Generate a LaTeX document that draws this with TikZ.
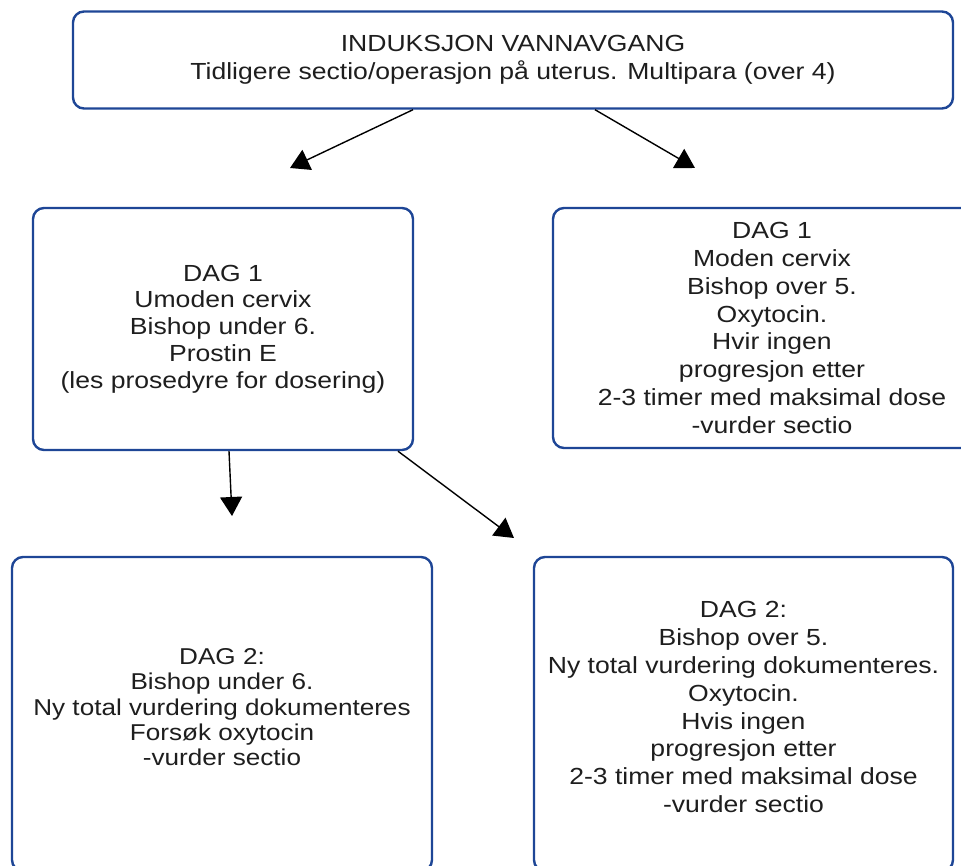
\documentclass[tikz,border=0pt]{standalone}
\usepackage{fontspec}
\setmainfont{Liberation Sans}[FakeStretch=1.14]
\usepackage{xcolor}
\usepackage{tikz}
\usetikzlibrary{arrows.meta, positioning, calc}
\definecolor{boxblue}{RGB}{30,70,150}
\definecolor{inktext}{RGB}{30,30,30}
\tikzset{
  stage/.style = {rectangle, rounded corners=11pt, draw=boxblue, line width=2.4pt,
                  fill=white, inner sep=0pt, align=center, text=inktext,
                  font=\fontsize{23.3}{27.8}\selectfont},
  flow/.style  = {-{Triangle[length=19pt,width=22pt]}, line width=1.4pt},
}

\begin{document}
\begin{tikzpicture}[x=1pt, y=-1pt]
  \useasboundingbox (0,0) rectangle (961,866);
  \clip (0,0) rectangle (961,866);

  \node[stage, minimum width=880pt, minimum height=97pt] (start) at (513,60)
    {INDUKSJON VANNAVGANG\\Tidligere sectio/operasjon på uterus. Multipara (over 4)};
  \node[stage, minimum width=380pt, minimum height=242pt,
        font=\fontsize{23.3}{26.8}\selectfont] (umoden) at (223,329)
    {DAG 1\\Umoden cervix\\Bishop under 6.\\Prostin E\\(les prosedyre for dosering)};
  \node[stage, minimum width=438pt, minimum height=240pt] (moden) at (772,328)
    {DAG 1\\Moden cervix\\Bishop over 5.\\Oxytocin.\\Hvir ingen\\progresjon etter\\2-3 timer med maksimal dose\\-vurder sectio};
  \node[stage, minimum width=420pt, minimum height=314pt, text depth=14pt,
        font=\fontsize{22.9}{25.2}\selectfont] (underseks) at (222,714)
    {DAG 2:\\Bishop under 6.\\Ny total vurdering dokumenteres\\Forsøk oxytocin\\-vurder sectio};
  \node[stage, minimum width=419pt, minimum height=314pt, text depth=14pt] (overfem) at (743.5,714)
    {DAG 2:\\Bishop over 5.\\Ny total vurdering dokumenteres.\\Oxytocin.\\Hvis ingen\\progresjon etter\\2-3 timer med maksimal dose\\-vurder sectio};

  % arrow tips end in the gaps
  \coordinate (tipumoden) at (290,168);
  \coordinate (tipmoden) at (695,168);
  \coordinate (tipunder) at (232,516);
  \coordinate (tipover) at (514,538);

  \draw[flow] ([xshift=-100pt]start.south) -- (tipumoden);
  \draw[flow] ([xshift=82pt]start.south) -- (tipmoden);
  \draw[flow] ([xshift=6pt]umoden.south) -- (tipunder);
  \draw[flow] ([xshift=175pt]umoden.south) -- (tipover);
\end{tikzpicture}
\end{document}
